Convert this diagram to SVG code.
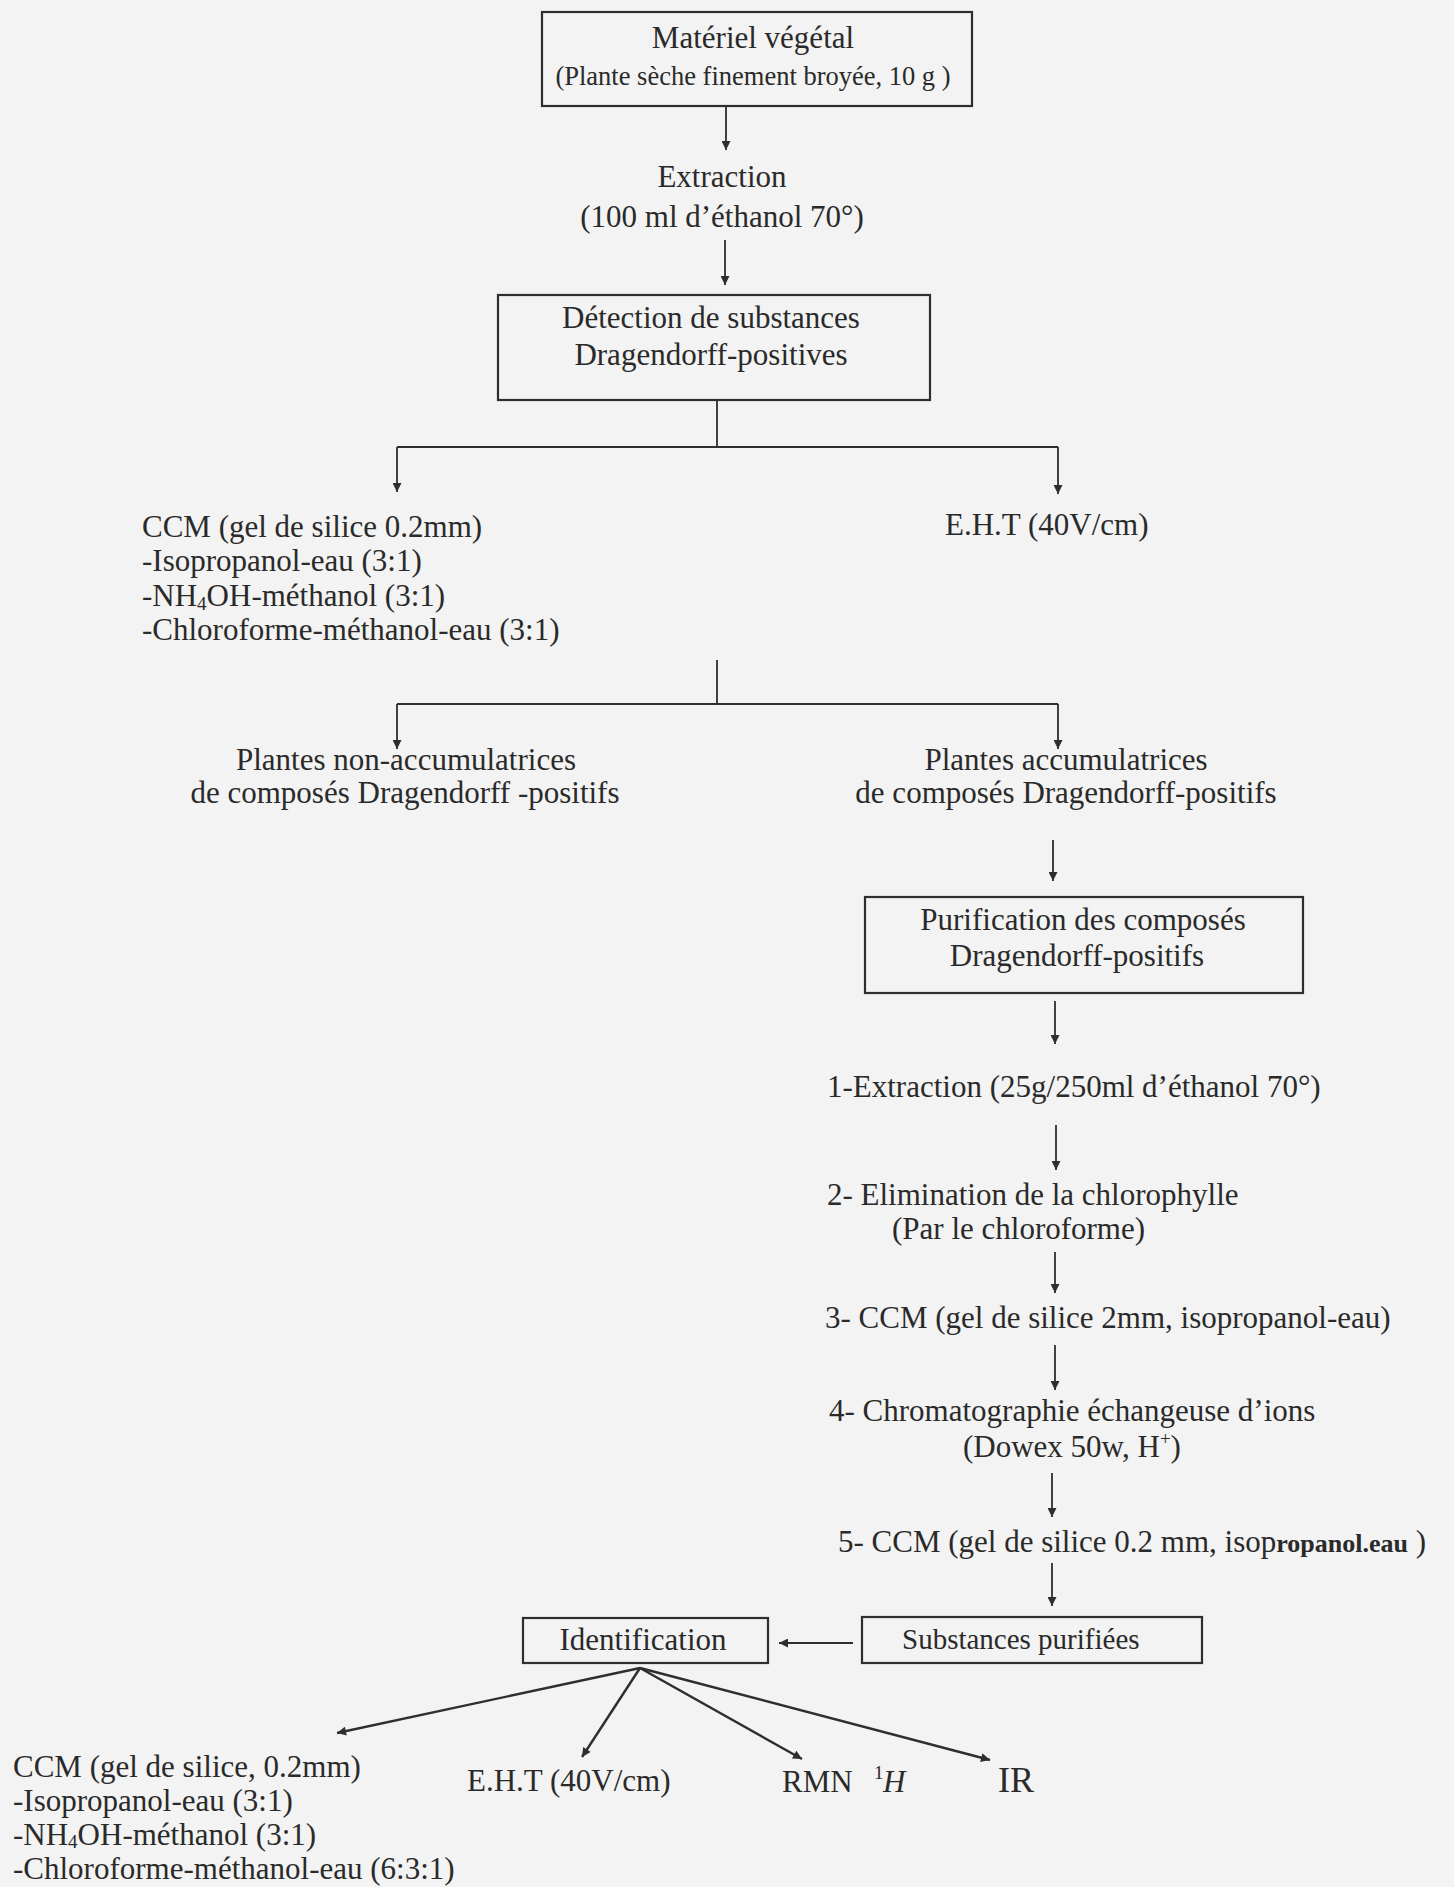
<svg xmlns="http://www.w3.org/2000/svg" width="1454" height="1887" viewBox="0 0 1454 1887">
<defs>
<marker id="ah" viewBox="0 0 10 10" refX="10" refY="5" markerWidth="10" markerHeight="9" markerUnits="userSpaceOnUse" orient="auto">
<path d="M0,0 L10,5 L0,10 z" fill="#2e2e2e"/>
</marker>
<style>
text{font-family:"Liberation Serif","Times New Roman",serif;fill:#2a2a2a;font-size:31px}
.box{fill:none;stroke:#2e2e2e;stroke-width:2.2}
.ln{fill:none;stroke:#2e2e2e;stroke-width:1.8}
.ar{fill:none;stroke:#2e2e2e;stroke-width:1.8;marker-end:url(#ah)}
.ar2{fill:none;stroke:#2e2e2e;stroke-width:2.4;marker-end:url(#ah)}
.c{text-anchor:middle}
.sub{font-size:19px}
</style>
</defs>
<rect width="1454" height="1887" fill="#f2f3f2"/>

<g id="connectors">
<line class="ar" x1="726" y1="106" x2="726" y2="150"/>
<line class="ar" x1="725" y1="240" x2="725" y2="285"/>
<polyline class="ln" points="717,400 717,447"/>
<polyline class="ln" points="397,447 1058,447"/>
<line class="ar" x1="397" y1="447" x2="397" y2="492"/>
<line class="ar" x1="1058" y1="447" x2="1058" y2="494"/>
<polyline class="ln" points="717,660 717,704"/>
<polyline class="ln" points="397,704 1058,704"/>
<line class="ar" x1="397" y1="704" x2="397" y2="749"/>
<line class="ar" x1="1058" y1="704" x2="1058" y2="749"/>
<line class="ar" x1="1053" y1="840" x2="1053" y2="881"/>
<line class="ar" x1="1055" y1="1001" x2="1055" y2="1044"/>
<line class="ar" x1="1056" y1="1125" x2="1056" y2="1170"/>
<line class="ar" x1="1055" y1="1252" x2="1055" y2="1293"/>
<line class="ar" x1="1055" y1="1345" x2="1055" y2="1390"/>
<line class="ar" x1="1052" y1="1473" x2="1052" y2="1517"/>
<line class="ar" x1="1052" y1="1563" x2="1052" y2="1606"/>
<line class="ar" x1="853" y1="1643" x2="779" y2="1643"/>
<line class="ar2" x1="640" y1="1668" x2="337" y2="1733"/>
<line class="ar2" x1="640" y1="1668" x2="582" y2="1757"/>
<line class="ar2" x1="640" y1="1668" x2="802" y2="1759"/>
<line class="ar2" x1="640" y1="1668" x2="990" y2="1760"/>
</g>

<g id="n-materiel">
<rect class="box" x="542" y="12" width="430" height="94"/>
<text class="c" x="753" y="48">Matériel végétal</text>
<text class="c" x="753" y="85" style="font-size:26.5px">(Plante sèche finement broyée, 10 g )</text>
</g>

<g id="n-extraction">
<text class="c" x="722" y="187">Extraction</text>
<text class="c" x="722" y="227">(100 ml d’éthanol 70°)</text>
</g>

<g id="n-detection">
<rect class="box" x="498" y="295" width="432" height="105"/>
<text class="c" x="711" y="328">Détection de substances</text>
<text class="c" x="711" y="365">Dragendorff-positives</text>
</g>

<g id="n-ccm1">
<text x="142" y="537">CCM (gel de silice 0.2mm)</text>
<text x="142" y="571">-Isopropanol-eau (3:1)</text>
<text x="142" y="606">-NH<tspan class="sub" dy="4">4</tspan><tspan dy="-4">OH-méthanol (3:1)</tspan></text>
<text x="142" y="640">-Chloroforme-méthanol-eau (3:1)</text>
</g>

<g id="n-eht1">
<text x="945" y="535">E.H.T (40V/cm)</text>
</g>

<g id="n-nonaccu">
<text class="c" x="406" y="770">Plantes non-accumulatrices</text>
<text class="c" x="405" y="803">de composés Dragendorff -positifs</text>
</g>

<g id="n-accu">
<text class="c" x="1066" y="770">Plantes accumulatrices</text>
<text class="c" x="1066" y="803">de composés Dragendorff-positifs</text>
</g>

<g id="n-purif">
<rect class="box" x="865" y="897" width="438" height="96"/>
<text class="c" x="1083" y="930">Purification des composés</text>
<text class="c" x="1077" y="966">Dragendorff-positifs</text>
</g>

<g id="n-step1">
<text x="827" y="1097">1-Extraction (25g/250ml d’éthanol 70°)</text>
</g>

<g id="n-step2">
<text x="827" y="1205">2- Elimination de la chlorophylle</text>
<text x="892" y="1239">(Par le chloroforme)</text>
</g>

<g id="n-step3">
<text x="825" y="1328">3- CCM (gel de silice 2mm, isopropanol-eau)</text>
</g>

<g id="n-step4">
<text x="829" y="1421">4- Chromatographie échangeuse d’ions</text>
<text x="963" y="1457">(Dowex 50w, H<tspan class="sub" dy="-12">+</tspan><tspan dy="12">)</tspan></text>
</g>

<g id="n-step5">
<text x="838" y="1552">5- CCM (gel de silice 0.2 mm, isop<tspan style="font-size:26px;font-weight:bold">ropanol.eau</tspan> )</text>
</g>

<g id="n-substances">
<rect class="box" x="862" y="1617" width="340" height="46"/>
<text x="902" y="1649" style="font-size:29px">Substances purifiées</text>
</g>

<g id="n-identification">
<rect class="box" x="523" y="1618" width="245" height="45"/>
<text class="c" x="643" y="1650">Identification</text>
</g>

<g id="n-ccm2">
<text x="13" y="1777">CCM (gel de silice, 0.2mm)</text>
<text x="13" y="1811">-Isopropanol-eau (3:1)</text>
<text x="13" y="1845">-NH<tspan class="sub" dy="3">4</tspan><tspan dy="-3">OH-méthanol (3:1)</tspan></text>
<text x="13" y="1879">-Chloroforme-méthanol-eau (6:3:1)</text>
</g>

<g id="n-eht2">
<text x="467" y="1791">E.H.T (40V/cm)</text>
</g>

<g id="n-rmn">
<text x="782" y="1792">RMN<tspan class="sub" x="874" dy="-13">1</tspan><tspan x="883" dy="13" style="font-style:italic">H</tspan></text>
</g>

<g id="n-ir">
<text x="998" y="1792" style="font-size:36px">IR</text>
</g>
</svg>
